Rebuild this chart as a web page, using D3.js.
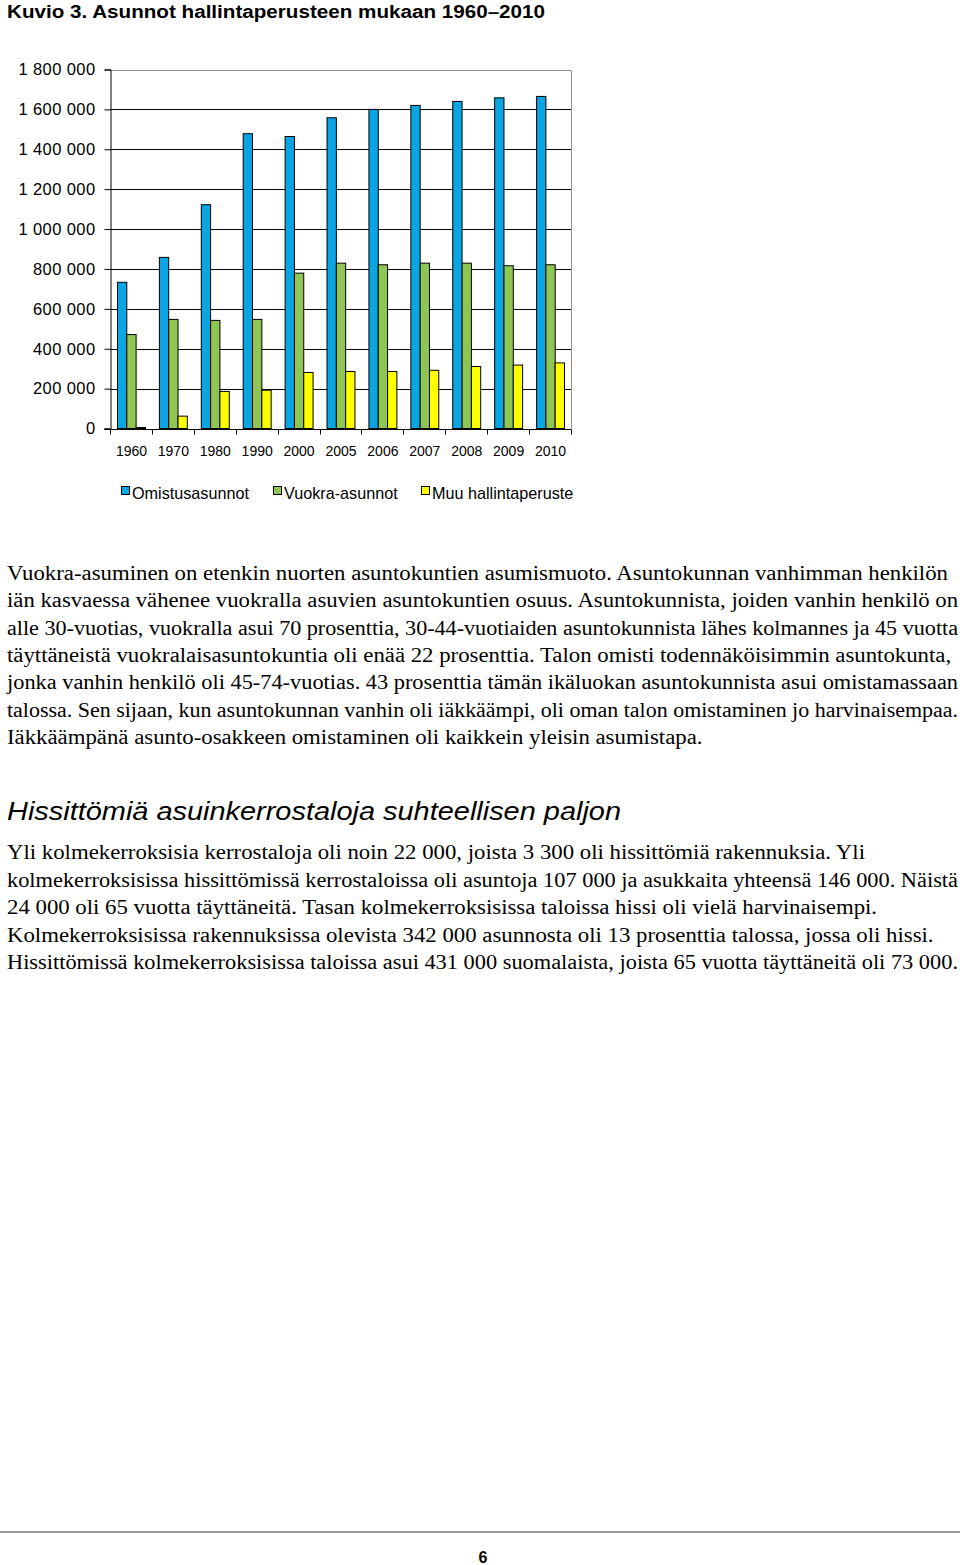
<!DOCTYPE html>
<html>
<head>
<meta charset="utf-8">
<script src="https://cdn.jsdelivr.net/npm/d3@7"></script>
<style>
  html, body { margin: 0; padding: 0; background: #fff; }
  svg { display: block; }
</style>
</head>
<body>
<svg id="page" width="960" height="1565"></svg>
<script>
// ---------- data ----------
const years = ["1960","1970","1980","1990","2000","2005","2006","2007","2008","2009","2010"];
const seriesNames = ["Omistusasunnot","Vuokra-asunnot","Muu hallintaperuste"];
const omistus = [733000, 858000, 1122000, 1478000, 1464000, 1558000, 1600000, 1620000, 1640000, 1658000, 1665000];
const vuokra  = [471000, 547000, 542000, 547000, 779000, 829000, 821000, 829000, 829000, 816000, 821000];
const muu     = [5000, 62000, 186000, 192000, 281000, 286000, 286000, 292000, 311000, 318000, 329000];
const yTicks  = [0, 200000, 400000, 600000, 800000, 1000000, 1200000, 1400000, 1600000, 1800000];
const colors  = ["#0aa6e4", "#8fc653", "#ffff00"];

const titleText = "Kuvio 3. Asunnot hallintaperusteen mukaan 1960\u20132010";
const para1 = [
  "Vuokra-asuminen on etenkin nuorten asuntokuntien asumismuoto. Asuntokunnan vanhimman henkilön",
  "iän kasvaessa vähenee vuokralla asuvien asuntokuntien osuus. Asuntokunnista, joiden vanhin henkilö on",
  "alle 30-vuotias, vuokralla asui 70 prosenttia, 30-44-vuotiaiden asuntokunnista lähes kolmannes ja 45 vuotta",
  "täyttäneistä vuokralaisasuntokuntia oli enää 22 prosenttia. Talon omisti todennäköisimmin asuntokunta,",
  "jonka vanhin henkilö oli 45-74-vuotias. 43 prosenttia tämän ikäluokan asuntokunnista asui omistamassaan",
  "talossa. Sen sijaan, kun asuntokunnan vanhin oli iäkkäämpi, oli oman talon omistaminen jo harvinaisempaa.",
  "Iäkkäämpänä asunto-osakkeen omistaminen oli kaikkein yleisin asumistapa."
];
const headingText = "Hissittömiä asuinkerrostaloja suhteellisen paljon";
const para2 = [
  "Yli kolmekerroksisia kerrostaloja oli noin 22 000, joista 3 300 oli hissittömiä rakennuksia. Yli",
  "kolmekerroksisissa hissittömissä kerrostaloissa oli asuntoja 107 000 ja asukkaita yhteensä 146 000. Näistä",
  "24 000 oli 65 vuotta täyttäneitä. Tasan kolmekerroksisissa taloissa hissi oli vielä harvinaisempi.",
  "Kolmekerroksisissa rakennuksissa olevista 342 000 asunnosta oli 13 prosenttia talossa, jossa oli hissi.",
  "Hissittömissä kolmekerroksisissa taloissa asui 431 000 suomalaista, joista 65 vuotta täyttäneitä oli 73 000."
];
const pageNumber = "6";

// ---------- page ----------
const svg = d3.select("#page");
const sans = "Arial, 'Liberation Sans', Helvetica, sans-serif";
const serif = "'Times New Roman', 'Liberation Serif', Times, serif";

// title
svg.append("text")
  .attr("x", 7).attr("y", 18)
  .attr("font-family", sans).attr("font-weight", "bold").attr("font-size", 18)
  .attr("textLength", 538).attr("lengthAdjust", "spacingAndGlyphs")
  .text(titleText);

// ---------- chart ----------
const x0 = d3.scaleBand().domain(years).range([110, 571]).paddingInner(0).paddingOuter(0);
const x1 = d3.scaleBand().domain(seriesNames).range([0, x0.bandwidth()]).paddingInner(0).paddingOuter(0.75);
const y = d3.scaleLinear().domain([0, 1800000]).range([428.5, 69.5]);

const chart = svg.append("g");

// gridlines
chart.append("g").selectAll("line").data(yTicks).join("line")
  .attr("x1", 110).attr("x2", 571)
  .attr("y1", d => Math.round(y(d)) + 0.5).attr("y2", d => Math.round(y(d)) + 0.5)
  .attr("stroke", d => d === 1800000 ? "#8c8c8c" : "#000")
  .attr("stroke-width", 1);

// right border
chart.append("line")
  .attr("x1", 571.5).attr("x2", 571.5)
  .attr("y1", Math.round(y(1800000)) + 0.5).attr("y2", Math.round(y(0)) + 0.5)
  .attr("stroke", "#8c8c8c");

// bars
const series = [omistus, vuokra, muu];
const groups = chart.append("g").selectAll("g").data(years).join("g")
  .attr("transform", d => `translate(${x0(d)},0)`);
groups.selectAll("rect")
  .data((d, i) => seriesNames.map((s, k) => ({ s, k, v: series[k][i] })))
  .join("rect")
  .attr("x", d => x1(d.s) + 0.5)
  .attr("width", x1.bandwidth())
  .attr("y", d => y(d.v))
  .attr("height", d => y(0) - y(d.v))
  .attr("fill", d => colors[d.k])
  .attr("stroke", "#000")
  .attr("stroke-width", 1);

// y axis
const yAxis = d3.axisLeft(y).tickValues(yTicks).tickSize(6).tickPadding(9)
  .tickFormat(d => d3.format(",")(d).replace(/,/g, " "));
const gy = chart.append("g").attr("transform", "translate(110.5,0)").call(yAxis);
gy.select(".domain").attr("stroke", "#000");
gy.selectAll(".tick line").attr("stroke", "#000");
gy.selectAll("text")
  .attr("font-family", sans).attr("font-size", 16.5).attr("fill", "#000")
  .attr("letter-spacing", 0.4);

// x axis
const gx = chart.append("g").attr("transform", `translate(0,${Math.round(y(0)) + 0.5})`);
gx.append("line").attr("x1", 104).attr("x2", 571).attr("stroke", "#000");
gx.selectAll("line.t").data(d3.range(years.length + 1)).join("line")
  .attr("class", "t")
  .attr("x1", i => Math.round(110 + i * x0.step()) + 0.5)
  .attr("x2", i => Math.round(110 + i * x0.step()) + 0.5)
  .attr("y1", 0).attr("y2", 5).attr("stroke", "#000");
gx.selectAll("text").data(years).join("text")
  .attr("x", d => x0(d) + x0.bandwidth() / 2 + 0.5)
  .attr("y", 26)
  .attr("text-anchor", "middle")
  .attr("font-family", sans).attr("font-size", 14).attr("fill", "#000")
  .text(d => d);

// legend
const legendX = [121, 273, 421];
const lg = chart.append("g").selectAll("g").data(seriesNames).join("g")
  .attr("transform", (d, i) => `translate(${legendX[i]},486)`);
lg.append("rect").attr("x", 0.5).attr("y", 0.5).attr("width", 8).attr("height", 8)
  .attr("fill", (d, i) => colors[i]).attr("stroke", "#000");
lg.append("text").attr("x", 11).attr("y", 12.5)
  .attr("font-family", sans).attr("font-size", 16.2).attr("fill", "#000")
  .text(d => d);

// ---------- body text ----------
const rightEdge = 958;
function paragraph(lines, y0, lh) {
  const g = svg.append("g");
  return g.selectAll("text").data(lines).join("text")
    .attr("x", 7).attr("y", (d, i) => y0 + i * lh)
    .attr("font-family", serif).attr("font-size", 20).attr("fill", "#000")
    .text(d => d);
}
const p1 = paragraph(para1, 580, 27.33);
const p2 = paragraph(para2, 859, 27.5);
// uniform horizontal scale calibrated on line 1 (ends near x=948), justified lines clamped to the right margin
const refLen = p1.nodes()[0].getComputedTextLength();
const sx = (948 - 7) / refLen;
[p1, p2].forEach(sel => sel.each(function () {
  const L = this.getComputedTextLength() * sx;
  d3.select(this).attr("textLength", Math.min(L, rightEdge - 7)).attr("lengthAdjust", "spacingAndGlyphs");
}));

// heading
svg.append("text")
  .attr("x", 7).attr("y", 820)
  .attr("font-family", sans).attr("font-style", "italic").attr("font-size", 26)
  .attr("textLength", 614).attr("lengthAdjust", "spacingAndGlyphs")
  .text(headingText);

// footer
svg.append("line").attr("x1", 0).attr("x2", 960).attr("y1", 1532).attr("y2", 1532)
  .attr("stroke", "#9a9a9a").attr("stroke-width", 2);
svg.append("text").attr("x", 483).attr("y", 1563).attr("text-anchor", "middle")
  .attr("font-family", sans).attr("font-weight", "bold").attr("font-size", 16)
  .text(pageNumber);
</script>
</body>
</html>
